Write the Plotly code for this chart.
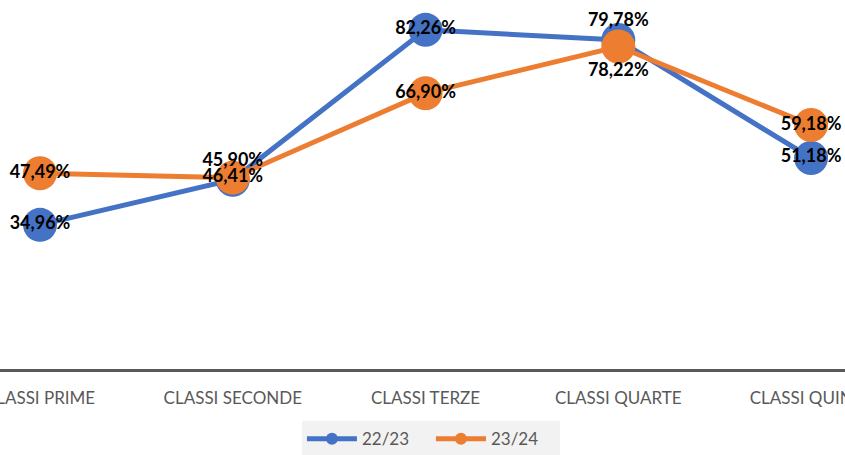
import plotly.graph_objects as go

categories = ["CLASSI PRIME", "CLASSI SECONDE", "CLASSI TERZE", "CLASSI QUARTE", "CLASSI QUINTE"]
series_2223 = [34.96, 45.90, 82.26, 79.78, 51.18]
series_2324 = [47.49, 46.41, 66.90, 78.22, 59.18]
names = ["22/23", "23/24"]

def fmt(v):
    return f"{v:.2f}".replace(".", ",") + "%"

blue = "#4472C4"
orange = "#ED7D31"
label_font = dict(family="Lato", size=18, color="black", weight="bold")

fig = go.Figure()
fig.add_trace(go.Scatter(
    x=categories, y=series_2223, name=names[0], mode="lines+markers",
    line=dict(color=blue, width=5), marker=dict(color=blue, size=34),
    cliponaxis=False,
))
fig.add_trace(go.Scatter(
    x=categories, y=series_2324, name=names[1], mode="lines+markers",
    line=dict(color=orange, width=5), marker=dict(color=orange, size=34),
    cliponaxis=False,
))
# data labels (drawn above all markers)
fig.add_trace(go.Scatter(
    x=categories, y=series_2223, mode="markers+text", showlegend=False, hoverinfo="skip",
    marker=dict(size=14, opacity=0),
    text=[fmt(v) for v in series_2223],
    textposition=["middle center", "top center", "middle center", "top center", "middle center"],
    textfont=label_font, cliponaxis=False,
))
fig.add_trace(go.Scatter(
    x=categories, y=series_2324, mode="markers+text", showlegend=False, hoverinfo="skip",
    marker=dict(size=[14, 14, 14, 24, 14], opacity=0),
    text=[fmt(v) for v in series_2324],
    textposition=["middle center", "middle center", "middle center", "bottom center", "middle center"],
    textfont=label_font, cliponaxis=False,
))

fig.update_layout(
    width=845, height=455,
    margin=dict(l=0, r=0, t=0, b=86, autoexpand=False),
    paper_bgcolor="white", plot_bgcolor="white",
    showlegend=True,
    legend=dict(orientation="h", x=0.51, xanchor="center", y=-0.19, yanchor="middle",
                bgcolor="#F2F2F2", font=dict(family="Lato", size=17, color="#595959"),
                itemwidth=50, itemsizing="constant", entrywidth=64),
    xaxis=dict(type="category", range=[-0.2075, 4.176], showgrid=False, automargin=False,
               showline=True, linecolor="#595959", linewidth=3,
               tickfont=dict(family="Lato", size=17, color="#595959"),
               ticks="", ticklabelstandoff=12),
    yaxis=dict(range=[0, 89.5], visible=False, showgrid=False, zeroline=False, automargin=False),
)

fig.write_html("out.html", config={"displayModeBar": False},
               post_script="document.body.style.margin='0px';")
